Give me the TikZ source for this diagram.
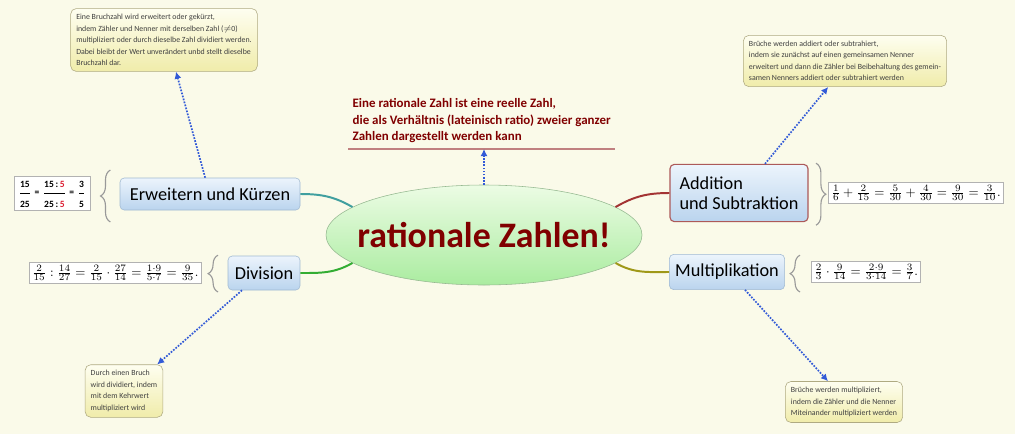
\documentclass[tikz,border=0pt]{standalone}
\usepackage{fontspec}
\setmainfont{Carlito}
\usepackage{amsmath}
\usetikzlibrary{shapes.geometric, arrows.meta, decorations.pathreplacing}

\definecolor{bgcream}{RGB}{250,250,233}
\definecolor{rootred}{RGB}{128,0,0}
\definecolor{rootline}{RGB}{150,185,145}
\definecolor{roottop}{RGB}{236,252,228}
\definecolor{rootbot}{RGB}{170,236,160}
\definecolor{topicline}{RGB}{160,185,210}
\definecolor{topictop}{RGB}{236,244,252}
\definecolor{topicbot}{RGB}{186,212,238}
\definecolor{noteline}{RGB}{175,170,130}
\definecolor{notetop}{RGB}{254,254,240}
\definecolor{notebot}{RGB}{240,236,170}
\definecolor{hintblue}{RGB}{50,90,215}
\definecolor{fracred}{RGB}{220,30,50}

\newcommand{\bfr}[2]{\dfrac{\rule[-3pt]{0pt}{9pt}\textbf{#1}}{\rule{0pt}{9pt}\textbf{#2}}}

\begin{document}
\begin{tikzpicture}[
    >=Latex,
    root/.style={ellipse, draw=rootline, top color=roottop, bottom color=rootbot, minimum width=7.9cm, minimum height=2.5cm, inner sep=0pt, font=\fontsize{25.5}{30}\selectfont\bfseries, text=rootred},
    topic/.style={draw=topicline, rounded corners=3pt, top color=topictop, bottom color=topicbot, font=\fontsize{13}{14.5}\selectfont, inner sep=2pt},
    formula/.style={draw=gray!60, fill=white, inner sep=2pt, font=\fontsize{9.5}{11}\selectfont},
    note/.style={draw=noteline, rounded corners=4pt, top color=notetop, bottom color=notebot, align=left, font=\fontsize{5.6}{8.2}\selectfont, inner sep=4pt, text=black!75},
    hint/.style={densely dotted, very thick, draw=hintblue, -{Latex[length=5pt, width=5pt]}},
    summary/.style={decorate, decoration={brace, amplitude=7pt}, draw=gray!80, thick},
    branch/.style={line width=1.4pt}
]

% -------------------------------------------------------------------------
% Background fixes the page size (1015 x 434 px, 40 px per cm)
% -------------------------------------------------------------------------
\fill[bgcream] (0,0) rectangle (25.375,-10.85);

% Central topic (text box kept narrow so the ellipse keeps its size)
\node[root] (C) at (12.1,-5.875) {\makebox[4cm]{rationale Zahlen!}};

% Definition above the root
\node[align=left, text=rootred, font=\fontsize{9.2}{11.8}\selectfont\bfseries, anchor=south, inner xsep=3pt, inner ysep=4pt] (T) at (12.04,-3.725)
    {Eine rationale Zahl ist eine reelle Zahl,\\ die als Verhältnis (lateinisch ratio) zweier ganzer\\ Zahlen dargestellt werden kann};
\draw[rootred!50, thick] (T.south west) -- (T.south east);

% Main topics
\node[topic, minimum width=4.5cm, minimum height=0.8cm] (EK) at (5.25,-4.85) {Erweitern und Kürzen};
\node[topic, minimum width=1.8cm, minimum height=0.85cm] (DV) at (6.6,-6.825) {Division};
\node[topic, draw=rootred!65, thick, minimum width=3.45cm, minimum height=1.43cm, align=left] (AS) at (18.475,-4.825) {Addition\\ und Subtraktion};
\node[topic, minimum width=2.88cm, minimum height=0.88cm] (MP) at (18.175,-6.8) {Multiplikation};

% Formula boxes
\node[formula, font=\fontsize{6.8}{7}\selectfont, inner xsep=3pt] (F1) at (1.3,-4.825)
    {$\bfr{15}{25}\;\textbf{=}\;\bfr{15\,:\,\textcolor{fracred}{5}}{25\,:\,\textcolor{fracred}{5}}\;\textbf{=}\;\bfr{3}{5}$};
\node[formula] (F2) at (22.9,-4.825) {$\frac{1}{6}+\frac{2}{15}=\frac{5}{30}+\frac{4}{30}=\frac{9}{30}=\frac{3}{10}.$};
\node[formula] (F3) at (2.88,-6.825) {$\frac{2}{15}:\frac{14}{27}=\frac{2}{15}\cdot\frac{27}{14}=\frac{1\cdot9}{5\cdot7}=\frac{9}{35}.$};
\node[formula] (F4) at (21.65,-6.8) {$\frac{2}{3}\cdot\frac{9}{14}=\frac{2\cdot9}{3\cdot14}=\frac{3}{7}.$};

% Summary braces
\draw[summary] (2.76,-5.55) -- (2.76,-4.25);
\draw[summary] (20.4,-4.08) -- (20.4,-5.63);
\draw[summary] (5.45,-7.3) -- (5.45,-6.38);
\draw[summary] (20.0,-7.3) -- (20.0,-6.38);

% Notes
\node[note] (N1) at (4.1,-1.0) {Eine Bruchzahl wird erweitert oder gekürzt,\\ indem Zähler und Nenner mit derselben Zahl ($\neq$0)\\ multipliziert oder durch dieselbe Zahl dividiert werden.\\ Dabei bleibt der Wert unverändert unbd stellt dieselbe\\ Bruchzahl dar.};
\node[note] (N2) at (21.125,-1.525) {Brüche werden addiert oder subtrahiert,\\ indem sie zunächst auf einen gemeinsamen Nenner\\ erweitert und dann die Zähler bei Beibehaltung des gemein-\\ samen Nenners addiert oder subtrahiert werden};
\node[note] (N3) at (3.1,-9.775) {Durch einen Bruch\\ wird dividiert, indem\\ mit dem Kehrwert\\ multipliziert wird};
\node[note] (N4) at (21.1,-10.05) {Brüche werden multipliziert,\\ indem die Zähler und die Nenner\\ Miteinander multipliziert werden};

% -------------------------------------------------------------------------
% Branches from the root
% -------------------------------------------------------------------------
\draw[branch, teal!75] (EK.east) to[out=0, in=150] (C.168);
\draw[branch, green!60!black!80] (DV.east) to[out=0, in=210] (C.192);
\draw[branch, red!55!black!80] (AS.west) to[out=180, in=30] (C.12);
\draw[branch, olive!85] (MP.west) to[out=180, in=330] (C.348);

% Dotted links to the notes
\draw[hint] ([xshift=-0.12cm]EK.north) -- ([xshift=0.3cm]N1.south);
\draw[hint] ([xshift=0.65cm]AS.north) -- ([xshift=-0.42cm]N2.south);
\draw[hint] ([xshift=-0.55cm]DV.south) -- ([xshift=-0.15cm]N3.north east);
\draw[hint] ([xshift=0.45cm]MP.south) -- ([xshift=-0.4cm]N4.north);
\draw[hint] (C.north) -- (C.north |- T.south);

\end{tikzpicture}
\end{document}
